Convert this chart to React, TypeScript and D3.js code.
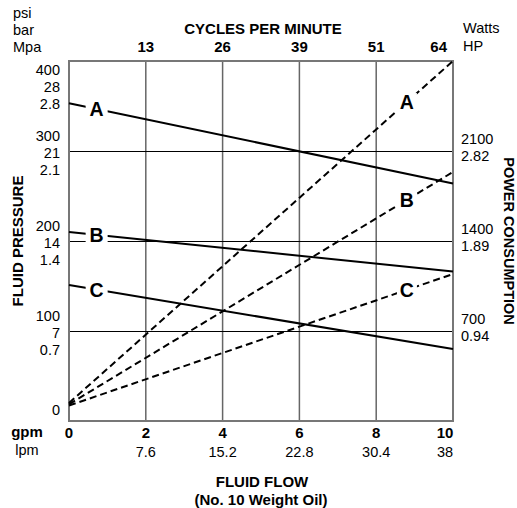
import React from "react";
import * as d3 from "d3";

// flow axis (bottom) and cycles axis (top)
const gpmTicks = [0, 2, 4, 6, 8, 10];
const lpmLabels = ["", "7.6", "15.2", "22.8", "30.4", "38"];
const cycleTicks = [2, 4, 6, 8, 10];
const cycleLabels = ["13", "26", "39", "51", "64"];

// left axis: psi / bar / Mpa
const psiTicks = [400, 300, 200, 100, 0];
const barLabels = ["28", "21", "14", "7", ""];
const mpaLabels = ["2.8", "2.1", "1.4", "0.7", ""];

// right axis: Watts / HP
const wattTicks = [2100, 1400, 700];
const hpLabels = ["2.82", "1.89", "0.94"];

const curveNames = ["A", "B", "C"];
// fluid pressure (psi) at 0 and 10 gpm
const pressureStart = [353, 210, 151];
const pressureEnd = [264, 166, 80];
// power consumption (W) at 0 and 10 gpm
const powerStart = [140, 130, 120];
const powerEnd = [2800, 1937, 1143];

const FONT = "'Liberation Sans', Arial, sans-serif";
const FS = 14.5; // regular labels
const FB = 15; // bold titles / ticks

export default function App() {
  const W = 517;
  const H = 508;
  const x = d3.scaleLinear().domain([0, 10]).range([69, 453]);
  const yP = d3.scaleLinear().domain([0, 400]).range([421, 61]);
  const yW = d3.scaleLinear().domain([0, 2800]).range([421, 61]);
  const line = d3.line<[number, number]>();

  const pressureLines = curveNames.map((n, i) => ({
    name: n,
    pts: [[x(0), yP(pressureStart[i])], [x(10), yP(pressureEnd[i])]] as [number, number][],
  }));
  const powerLines = curveNames.map((n, i) => ({
    name: n,
    pts: [[x(0), yW(powerStart[i])], [x(10), yW(powerEnd[i])]] as [number, number][],
  }));

  const solidLabelAt = 0.72;
  const dashLabelAt = 8.8;
  const lerp = (a: number, b: number, t: number) => a + (b - a) * t;
  const last = (arr: any[], i: number) => i === arr.length - 1;

  return (
    <svg
      width={W}
      height={H}
      style={{ position: "absolute", left: 0, top: 0, background: "#fff" }}
      fontFamily={FONT}
    >
      {/* vertical grid */}
      {cycleTicks.slice(0, -1).map((t) => (
        <line key={"v" + t} x1={x(t)} x2={x(t)} y1={yP(400)} y2={yP(0)} stroke="#666" strokeWidth={1.5} />
      ))}
      {/* horizontal grid */}
      {psiTicks.slice(1, -1).map((t) => (
        <line key={"h" + t} x1={x(0)} x2={x(10)} y1={yP(t) + 0.5} y2={yP(t) + 0.5} stroke="#000" strokeWidth={1} />
      ))}
      {/* frame */}
      <rect x={x(0)} y={yP(400)} width={x(10) - x(0)} height={yP(0) - yP(400)} fill="none" stroke="#777" strokeWidth={2} />

      {/* power consumption (dashed) */}
      {powerLines.map((l) => (
        <path key={"p" + l.name} d={line(l.pts) || ""} fill="none" stroke="#000" strokeWidth={2} strokeDasharray="7,4" />
      ))}
      {/* fluid pressure (solid) */}
      {pressureLines.map((l) => (
        <path key={"s" + l.name} d={line(l.pts) || ""} fill="none" stroke="#000" strokeWidth={2} />
      ))}

      {/* curve labels */}
      {pressureLines.map((l) => {
        const lx = x(solidLabelAt);
        const ly = lerp(l.pts[0][1], l.pts[1][1], solidLabelAt / 10);
        return (
          <g key={"sl" + l.name}>
            <rect x={lx - 11} y={ly - 9} width={22} height={18} fill="#fff" />
            <text x={lx} y={ly + 7} textAnchor="middle" fontSize={19.5} fontWeight="bold">{l.name}</text>
          </g>
        );
      })}
      {powerLines.map((l) => {
        const lx = x(dashLabelAt);
        const ly = lerp(l.pts[0][1], l.pts[1][1], dashLabelAt / 10);
        return (
          <g key={"pl" + l.name}>
            <rect x={lx - 10} y={ly - 9} width={20} height={18} fill="#fff" />
            <text x={lx} y={ly + 7} textAnchor="middle" fontSize={19.5} fontWeight="bold">{l.name}</text>
          </g>
        );
      })}

      {/* left axis labels */}
      <g fontSize={FS} textAnchor="end">
        <text x={13} y={18} textAnchor="start">psi</text>
        <text x={13} y={35} textAnchor="start">bar</text>
        <text x={13} y={52} textAnchor="start">Mpa</text>
        {psiTicks.map((t, i) => {
          const y = yP(t);
          const off = t === 400 ? 14 : t === 0 ? -6 : -10;
          return (
            <g key={"l" + t}>
              <text x={60} y={y + off}>{t}</text>
              <text x={60} y={y + off + 17}>{barLabels[i]}</text>
              <text x={60} y={y + off + 34}>{mpaLabels[i]}</text>
            </g>
          );
        })}
      </g>

      {/* right axis labels */}
      <g fontSize={FS} textAnchor="start">
        <text x={463} y={33}>Watts</text>
        <text x={463} y={51}>HP</text>
        {wattTicks.map((t, i) => (
          <g key={"r" + t}>
            <text x={461} y={yW(t) - 7}>{t}</text>
            <text x={461} y={yW(t) + 10}>{hpLabels[i]}</text>
          </g>
        ))}
      </g>

      {/* top axis */}
      <text x={263} y={34} textAnchor="middle" fontSize={FB} fontWeight="bold">CYCLES PER MINUTE</text>
      {cycleTicks.map((t, i) => (
        <text
          key={"c" + t}
          x={last(cycleTicks, i) ? x(t) - 6 : x(t)}
          y={52}
          textAnchor={last(cycleTicks, i) ? "end" : "middle"}
          fontSize={FB}
          fontWeight="bold"
        >
          {cycleLabels[i]}
        </text>
      ))}

      {/* bottom axis */}
      <text x={27} y={437} textAnchor="middle" fontSize={FB} fontWeight="bold">gpm</text>
      <text x={27} y={455} textAnchor="middle" fontSize={FS}>lpm</text>
      {gpmTicks.map((t, i) => (
        <g key={"b" + t}>
          <text
            x={last(gpmTicks, i) ? x(t) - 8 : x(t)}
            y={438}
            textAnchor="middle"
            fontSize={FB}
            fontWeight="bold"
          >
            {t}
          </text>
          <text
            x={last(gpmTicks, i) ? x(t) - 8 : x(t)}
            y={457}
            textAnchor="middle"
            fontSize={FS}
          >
            {lpmLabels[i]}
          </text>
        </g>
      ))}
      <text x={262} y={487} textAnchor="middle" fontSize={FB} fontWeight="bold">FLUID FLOW</text>
      <text x={261} y={505} textAnchor="middle" fontSize={FB} fontWeight="bold">(No. 10 Weight Oil)</text>

      {/* axis titles */}
      <text transform={`translate(23,241) rotate(-90)`} textAnchor="middle" fontSize={FB} fontWeight="bold">FLUID PRESSURE</text>
      <text transform={`translate(504,241) rotate(90)`} textAnchor="middle" fontSize={14.5} fontWeight="bold">POWER CONSUMPTION</text>
    </svg>
  );
}
